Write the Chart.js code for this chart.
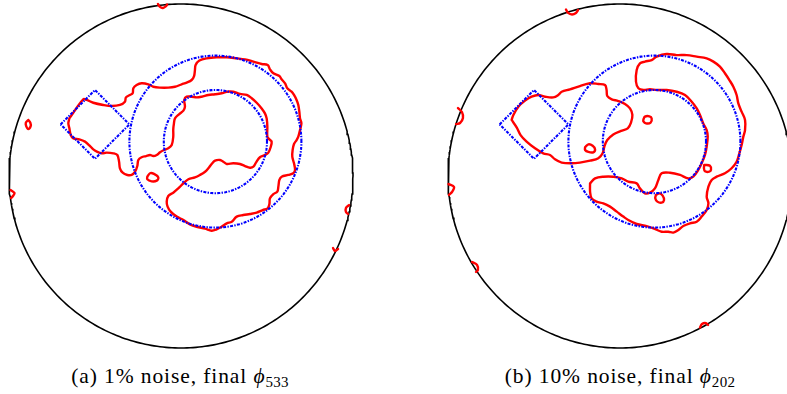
<!DOCTYPE html>
<html><head><meta charset="utf-8">
<script src="https://cdn.jsdelivr.net/npm/chart.js@4/dist/chart.umd.min.js"></script>
<style>
html,body{margin:0;padding:0;background:#fff;}
#wrap{position:relative;width:787px;height:394px;overflow:hidden;background:#fff;}
canvas{position:absolute;top:0;}
#cA{left:0}
#cB{left:439px}
.cap{position:absolute;top:364px;width:440px;text-align:center;font-family:"Liberation Serif","DejaVu Serif",serif;font-size:21.5px;line-height:24px;letter-spacing:0.9px;color:#000;white-space:nowrap}
.cap sub{font-size:15px;vertical-align:-4px;line-height:0;letter-spacing:0.3px}
</style></head><body>
<div id="wrap">
<canvas id="cA" width="362" height="352"></canvas>
<canvas id="cB" width="362" height="352"></canvas>
<div class="cap" style="left:-40px">(a) 1% noise, final <i>ϕ</i><sub>533</sub></div>
<div class="cap" style="left:400px">(b) 10% noise, final <i>ϕ</i><sub>202</sub></div>
</div>
<script>
// ---- geometry of the true shapes (unit disk domain) ----
const domainCenter = [0, 0];
const domainRadius = 1;
const ringCenter = [0.2, 0.2];
const ringOuterRadius = 0.5;
const ringInnerRadius = 0.3;
const diamondVertices = [[-0.7, 0.3], [-0.5, 0.5], [-0.3, 0.3], [-0.5, 0.1]];

// ---- (a) 1% noise: reconstructed zero contours ----
const a_mainContour = [
[-0.649,0.335],[-0.568,0.446],[-0.548,0.442],[-0.510,0.426],[-0.452,0.413],[-0.403,0.407],[-0.355,0.413],[-0.326,0.432],
[-0.320,0.457],[-0.297,0.471],[-0.281,0.481],[-0.277,0.510],[-0.258,0.529],[-0.229,0.539],[-0.190,0.533],[-0.161,0.519],
[-0.122,0.514],[-0.074,0.514],[-0.035,0.519],[0.004,0.533],[0.033,0.543],[0.062,0.558],[0.076,0.581],[0.081,0.616],
[0.085,0.645],[0.107,0.671],[0.149,0.684],[0.207,0.690],[0.266,0.690],[0.324,0.684],[0.372,0.678],[0.421,0.665],
[0.469,0.651],[0.504,0.645],[0.517,0.620],[0.537,0.597],[0.572,0.581],[0.585,0.562],[0.605,0.539],[0.618,0.510],
[0.643,0.490],[0.657,0.471],[0.672,0.442],[0.682,0.413],[0.688,0.374],[0.692,0.335],[0.700,0.306],[0.692,0.267],
[0.682,0.229],[0.672,0.209],[0.657,0.186],[0.649,0.151],[0.647,0.112],[0.657,0.074],[0.663,0.035],[0.653,0.016],
[0.624,0.006],[0.585,-0.004],[0.572,-0.023],[0.566,-0.062],[0.560,-0.091],[0.537,-0.105],[0.517,-0.130],[0.514,-0.163],
[0.504,-0.188],[0.475,-0.198],[0.440,-0.213],[0.401,-0.221],[0.362,-0.227],[0.324,-0.236],[0.295,-0.266],[0.266,-0.275],
[0.236,-0.295],[0.207,-0.310],[0.178,-0.318],[0.140,-0.306],[0.091,-0.295],[0.052,-0.281],[0.014,-0.256],[-0.025,-0.236],
[-0.060,-0.207],[-0.078,-0.178],[-0.083,-0.149],[-0.074,-0.116],[-0.045,-0.097],[-0.016,-0.072],[0.014,-0.043],[0.043,-0.019],
[0.081,-0.008],[0.110,0.006],[0.140,0.025],[0.159,0.045],[0.178,0.070],[0.198,0.089],[0.227,0.093],[0.246,0.083],
[0.266,0.070],[0.304,0.074],[0.343,0.070],[0.372,0.058],[0.401,0.048],[0.421,0.054],[0.436,0.078],[0.459,0.109],
[0.488,0.122],[0.508,0.136],[0.521,0.167],[0.527,0.200],[0.514,0.213],[0.502,0.229],[0.502,0.287],[0.498,0.335],
[0.488,0.364],[0.469,0.393],[0.440,0.426],[0.411,0.452],[0.382,0.471],[0.343,0.477],[0.304,0.490],[0.266,0.490],
[0.236,0.481],[0.198,0.475],[0.159,0.471],[0.120,0.461],[0.091,0.457],[0.062,0.461],[0.033,0.461],[0.019,0.442],
[0.023,0.403],[0.014,0.380],[-0.010,0.360],[-0.035,0.335],[-0.041,0.306],[-0.045,0.271],[-0.045,0.229],[-0.054,0.180],
[-0.074,0.161],[-0.099,0.151],[-0.122,0.138],[-0.141,0.122],[-0.161,0.116],[-0.180,0.122],[-0.203,0.116],[-0.229,0.109],
[-0.248,0.093],[-0.254,0.058],[-0.267,0.025],[-0.287,0.006],[-0.312,0.006],[-0.339,0.019],[-0.355,0.045],[-0.360,0.083],
[-0.370,0.122],[-0.393,0.132],[-0.432,0.136],[-0.461,0.132],[-0.486,0.140],[-0.510,0.155],[-0.533,0.178],[-0.558,0.200],
[-0.591,0.213],[-0.626,0.219],[-0.641,0.238],[-0.649,0.277],[-0.655,0.306]
];
const a_islandLoop = [[-0.196,-0.004],[-0.180,0.016],[-0.157,0.012],[-0.132,-0.008],[-0.141,-0.027],[-0.171,-0.031],[-0.196,-0.019]];
const a_edgeLoop = [[-0.888,0.325],[-0.876,0.310],[-0.874,0.290],[-0.888,0.273],[-0.900,0.290],[-0.902,0.310]];
const a_edgeArcLeft = [[-0.991,-0.081],[-0.968,-0.099],[-0.977,-0.116],[-0.988,-0.128]];
const a_edgeArcTop = [[-0.134,1.000],[-0.122,0.983],[-0.105,0.977],[-0.087,0.988],[-0.081,0.997]];
const a_edgeArcRight1 = [[0.977,-0.169],[0.959,-0.186],[0.959,-0.209],[0.971,-0.221]];
const a_edgeArcRight2 = [[0.884,-0.419],[0.895,-0.436],[0.913,-0.424]];

// ---- (b) 10% noise: reconstructed zero contours ----
const b_leftContour = [
[-0.630,0.326],[-0.620,0.355],[-0.591,0.403],[-0.552,0.438],[-0.514,0.461],[-0.475,0.471],[-0.436,0.461],[-0.388,0.457],
[-0.359,0.471],[-0.339,0.490],[-0.291,0.504],[-0.233,0.523],[-0.174,0.539],[-0.126,0.535],[-0.087,0.529],[-0.078,0.500],
[-0.074,0.465],[-0.048,0.446],[-0.010,0.436],[0.029,0.419],[0.058,0.393],[0.072,0.355],[0.064,0.310],[0.045,0.277],
[0.006,0.262],[-0.039,0.242],[-0.074,0.209],[-0.091,0.171],[-0.101,0.132],[-0.126,0.103],[-0.174,0.089],[-0.233,0.078],
[-0.281,0.074],[-0.339,0.078],[-0.378,0.097],[-0.407,0.122],[-0.446,0.132],[-0.494,0.161],[-0.543,0.200],[-0.578,0.238],
[-0.601,0.283]
];
const b_ringContour = [
[-0.174,-0.043],[-0.145,-0.014],[-0.097,-0.004],[-0.039,-0.004],[0.010,-0.014],[0.048,-0.033],[0.097,-0.043],[0.116,-0.072],
[0.145,-0.101],[0.174,-0.097],[0.203,-0.072],[0.223,-0.023],[0.242,0.016],[0.291,0.019],[0.349,0.006],[0.397,-0.014],
[0.426,-0.004],[0.455,0.035],[0.475,0.074],[0.494,0.122],[0.504,0.171],[0.510,0.229],[0.504,0.267],[0.484,0.306],
[0.465,0.355],[0.446,0.393],[0.417,0.432],[0.378,0.471],[0.329,0.490],[0.271,0.500],[0.213,0.500],[0.174,0.504],
[0.136,0.500],[0.107,0.510],[0.093,0.548],[0.097,0.616],[0.116,0.655],[0.145,0.665],[0.184,0.674],[0.213,0.694],
[0.271,0.709],[0.329,0.703],[0.388,0.703],[0.446,0.694],[0.504,0.684],[0.543,0.665],[0.581,0.636],[0.610,0.597],
[0.636,0.558],[0.659,0.519],[0.678,0.471],[0.688,0.422],[0.707,0.374],[0.727,0.326],[0.727,0.267],[0.717,0.229],
[0.707,0.180],[0.694,0.132],[0.678,0.083],[0.649,0.045],[0.610,0.016],[0.562,-0.004],[0.533,-0.023],[0.514,-0.062],
[0.504,-0.120],[0.514,-0.159],[0.504,-0.198],[0.475,-0.236],[0.446,-0.266],[0.407,-0.275],[0.368,-0.291],[0.339,-0.314],
[0.310,-0.329],[0.281,-0.324],[0.242,-0.324],[0.194,-0.304],[0.155,-0.291],[0.097,-0.279],[0.048,-0.256],[0.019,-0.236],
[-0.019,-0.207],[-0.058,-0.178],[-0.097,-0.159],[-0.136,-0.149],[-0.165,-0.130],[-0.174,-0.091]
];
const b_loopInner = [[0.136,0.329],[0.145,0.345],[0.171,0.347],[0.184,0.335],[0.178,0.310],[0.151,0.306],[0.136,0.318]];
const b_loopLeft = [[-0.203,0.167],[-0.184,0.184],[-0.159,0.176],[-0.145,0.155],[-0.155,0.138],[-0.184,0.140],[-0.203,0.151]];
const b_loopRight = [[0.490,0.064],[0.523,0.060],[0.529,0.035],[0.519,0.025],[0.494,0.027],[0.488,0.045]];
const b_loopBottom = [[0.209,-0.110],[0.229,-0.101],[0.248,-0.114],[0.256,-0.140],[0.242,-0.155],[0.217,-0.149],[0.205,-0.130]];
const b_edgeArcTop = [[-0.314,0.968],[-0.302,0.948],[-0.279,0.939],[-0.256,0.948],[-0.244,0.965]];
const b_edgeArcLeft1 = [[-0.942,0.395],[-0.919,0.372],[-0.913,0.337],[-0.930,0.308],[-0.953,0.302]];
const b_edgeArcLeft2 = [[-0.997,-0.047],[-0.965,-0.064],[-0.977,-0.093],[-0.994,-0.110]];
const b_edgeArcLeft3 = [[-0.860,-0.500],[-0.831,-0.517],[-0.826,-0.547],[-0.837,-0.558]];
const b_edgeArcBottom = [[0.465,-0.881],[0.477,-0.860],[0.500,-0.855],[0.512,-0.866]];

// ---- helpers ----
function circlePts(c, r, n) {
  const pts = [];
  for (let k = 0; k <= n; k++) {
    const t = 2 * Math.PI * k / n;
    pts.push({x: c[0] + r * Math.cos(t), y: c[1] + r * Math.sin(t)});
  }
  return pts;
}
function toPts(arr, closed) {
  const p = arr.map(v => ({x: v[0], y: v[1]}));
  if (closed) p.push({x: arr[0][0], y: arr[0][1]});
  return p;
}
const BLUE = {borderColor: '#0000ff', borderWidth: 2.1, borderDash: [3, 1.3, 1.4, 1.3], borderCapStyle: 'butt', borderJoinStyle: 'miter'};
const RED = {borderColor: '#ff0000', borderWidth: 2.4, tension: 0.35, borderCapStyle: 'round', borderJoinStyle: 'round'};
const BLACK = {borderColor: '#000000', borderWidth: 1.6};
function ds(data, style) {
  return Object.assign({data, showLine: true, pointRadius: 0, fill: false, clip: false, tension: 0}, style);
}
function trueShapes() {
  return [
    ds(circlePts(ringCenter, ringOuterRadius, 200), BLUE),
    ds(circlePts(ringCenter, ringInnerRadius, 160), BLUE),
    ds(toPts(diamondVertices, true), BLUE)
  ];
}
function build(id, closedContours, openArcs) {
  const datasets = trueShapes();
  closedContours.forEach(c => datasets.push(ds(toPts(c, true), RED)));
  openArcs.forEach(c => datasets.push(ds(toPts(c, false), RED)));
  datasets.push(ds(circlePts(domainCenter, domainRadius, 360), BLACK));
  new Chart(document.getElementById(id), {
    type: 'scatter',
    data: {datasets},
    options: {
      responsive: false, animation: false, devicePixelRatio: 1,
      layout: {padding: {left: 9, right: 9, top: 4, bottom: 4}},
      scales: {
        x: {type: 'linear', min: -1, max: 1, display: false},
        y: {type: 'linear', min: -1, max: 1, display: false}
      },
      plugins: {legend: {display: false}, tooltip: {enabled: false}},
      elements: {point: {radius: 0}}
    }
  });
}
build('cA', [a_mainContour, a_islandLoop, a_edgeLoop],
  [a_edgeArcLeft, a_edgeArcTop, a_edgeArcRight1, a_edgeArcRight2]);
build('cB', [b_leftContour, b_ringContour, b_loopInner, b_loopLeft, b_loopRight, b_loopBottom],
  [b_edgeArcTop, b_edgeArcLeft1, b_edgeArcLeft2, b_edgeArcLeft3, b_edgeArcBottom]);
</script>
</body></html>
